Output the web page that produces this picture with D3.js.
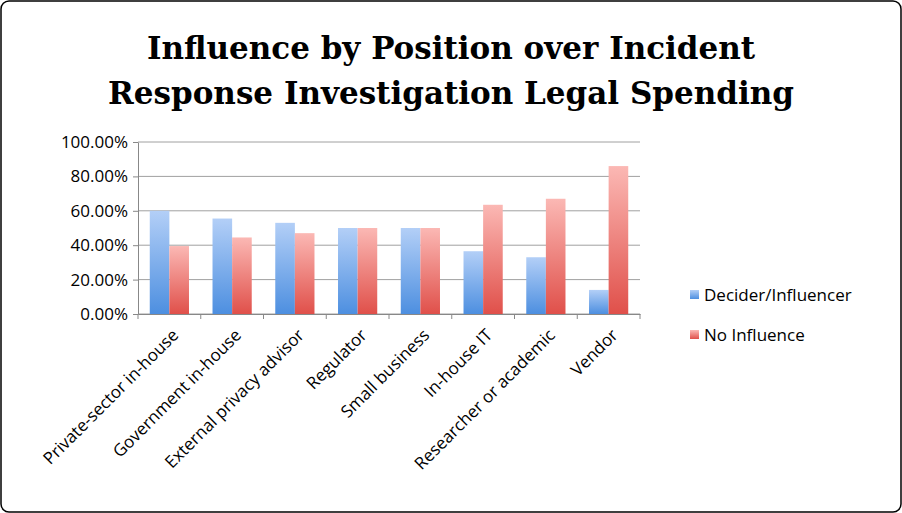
<!DOCTYPE html>
<head>
  <meta charset="utf-8">
  <script src="https://d3js.org/d3.v7.min.js"></script>
  <style>
    body { margin:0; background:#fff; }
    text { font-family: "Open Sans", sans-serif; fill:#000; }
  </style>
</head>
<body>
<script>
var categories = ["Private-sector in-house","Government in-house","External privacy advisor","Regulator","Small business","In-house IT","Researcher or academic","Vendor"];
var deciderValues = [0.60, 0.555, 0.53, 0.50, 0.50, 0.365, 0.33, 0.14];
var noInfluenceValues = [0.395, 0.445, 0.47, 0.50, 0.50, 0.635, 0.67, 0.86];
var seriesNames = ["Decider/Influencer", "No Influence"];
var yTicks = [0, 0.2, 0.4, 0.6, 0.8, 1.0];

var width = 902, height = 513;
var margin = {left: 138, right: 262, top: 142, bottom: 199};

var svg = d3.select("body").append("svg")
  .attr("width", width).attr("height", height);

svg.append("rect").attr("x", 1).attr("y", 1).attr("width", width - 2).attr("height", height - 2)
  .attr("rx", 8).attr("fill", "#fff").attr("stroke", "#000").attr("stroke-width", 1.5);

var defs = svg.append("defs");
function grad(id, top, bottom) {
  var g = defs.append("linearGradient").attr("id", id).attr("x1", 0).attr("y1", 0).attr("x2", 0).attr("y2", 1);
  g.append("stop").attr("offset", "0%").attr("stop-color", top);
  g.append("stop").attr("offset", "100%").attr("stop-color", bottom);
}
grad("gBlue", "#b3cff7", "#4d8fe0");
grad("gRed", "#fbb8b4", "#e0504a");
var fills = ["url(#gBlue)", "url(#gRed)"];

svg.append("text").attr("x", 451).attr("y", 59).attr("text-anchor", "middle")
  .style("font-family", "'DejaVu Serif', serif").style("font-weight", "bold").style("font-size", "31px")
  .text("Influence by Position over Incident");
svg.append("text").attr("x", 451).attr("y", 104).attr("text-anchor", "middle")
  .style("font-family", "'DejaVu Serif', serif").style("font-weight", "bold").style("font-size", "31px")
  .text("Response Investigation Legal Spending");

var x = d3.scaleBand().domain(categories).range([margin.left, width - margin.right]);
var y = d3.scaleLinear().domain([0, 1]).range([height - margin.bottom, margin.top]);

// gridlines
svg.selectAll(".grid").data(yTicks).enter().append("line")
  .attr("x1", margin.left).attr("x2", width - margin.right)
  .attr("y1", d => y(d)).attr("y2", d => y(d))
  .attr("stroke", "#a0a0a0").attr("stroke-width", 1);

var inner = d3.scaleBand().domain([0, 1]).range([0, x.bandwidth()]).paddingInner(0).paddingOuter(0.6);

var groups = svg.selectAll(".cat").data(categories).enter().append("g")
  .attr("transform", d => "translate(" + x(d) + ",0)");
groups.selectAll("rect").data((d, i) => [deciderValues[i], noInfluenceValues[i]]).enter().append("rect")
  .attr("x", (d, j) => inner(j)).attr("width", inner.bandwidth())
  .attr("y", d => y(d)).attr("height", d => y(0) - y(d))
  .attr("fill", (d, j) => fills[j]);

// y axis
var yAxis = svg.append("g").attr("transform", "translate(" + margin.left + ",0)")
  .call(d3.axisLeft(y).tickValues(yTicks).tickFormat(d => (d * 100).toFixed(2) + "%").tickSize(5).tickSizeOuter(0));
yAxis.select(".domain").attr("stroke", "#888");
yAxis.selectAll("line").attr("stroke", "#888");
yAxis.selectAll("text").style("font-size", "17px").attr("dx", "-2px");

// x axis
var xAxis = svg.append("g").attr("transform", "translate(0," + y(0) + ")")
  .call(d3.axisBottom(x).tickSize(0).tickSizeOuter(0));
xAxis.select(".domain").attr("stroke", "#888");
xAxis.selectAll(".tick line").remove();
svg.append("g").selectAll("line").data(d3.range(categories.length + 1)).enter().append("line")
  .attr("x1", i => margin.left + i * x.step()).attr("x2", i => margin.left + i * x.step())
  .attr("y1", y(0)).attr("y2", y(0) + 5).attr("stroke", "#888");
xAxis.selectAll("text").style("font-size", "17px")
  .attr("text-anchor", "end").attr("dy", "0.35em")
  .attr("transform", "translate(6,18) rotate(-45)").attr("y", 0).attr("x", 0);

// legend
var legend = svg.append("g").attr("transform", "translate(690,295)");
seriesNames.forEach(function(n, i) {
  var g = legend.append("g").attr("transform", "translate(0," + i * 40 + ")");
  g.append("rect").attr("width", 9).attr("height", 9).attr("y", -5).attr("fill", fills[i]);
  g.append("text").attr("x", 14).attr("dy", "0.35em").style("font-size", "17px").text(n);
});
</script>
</body>
